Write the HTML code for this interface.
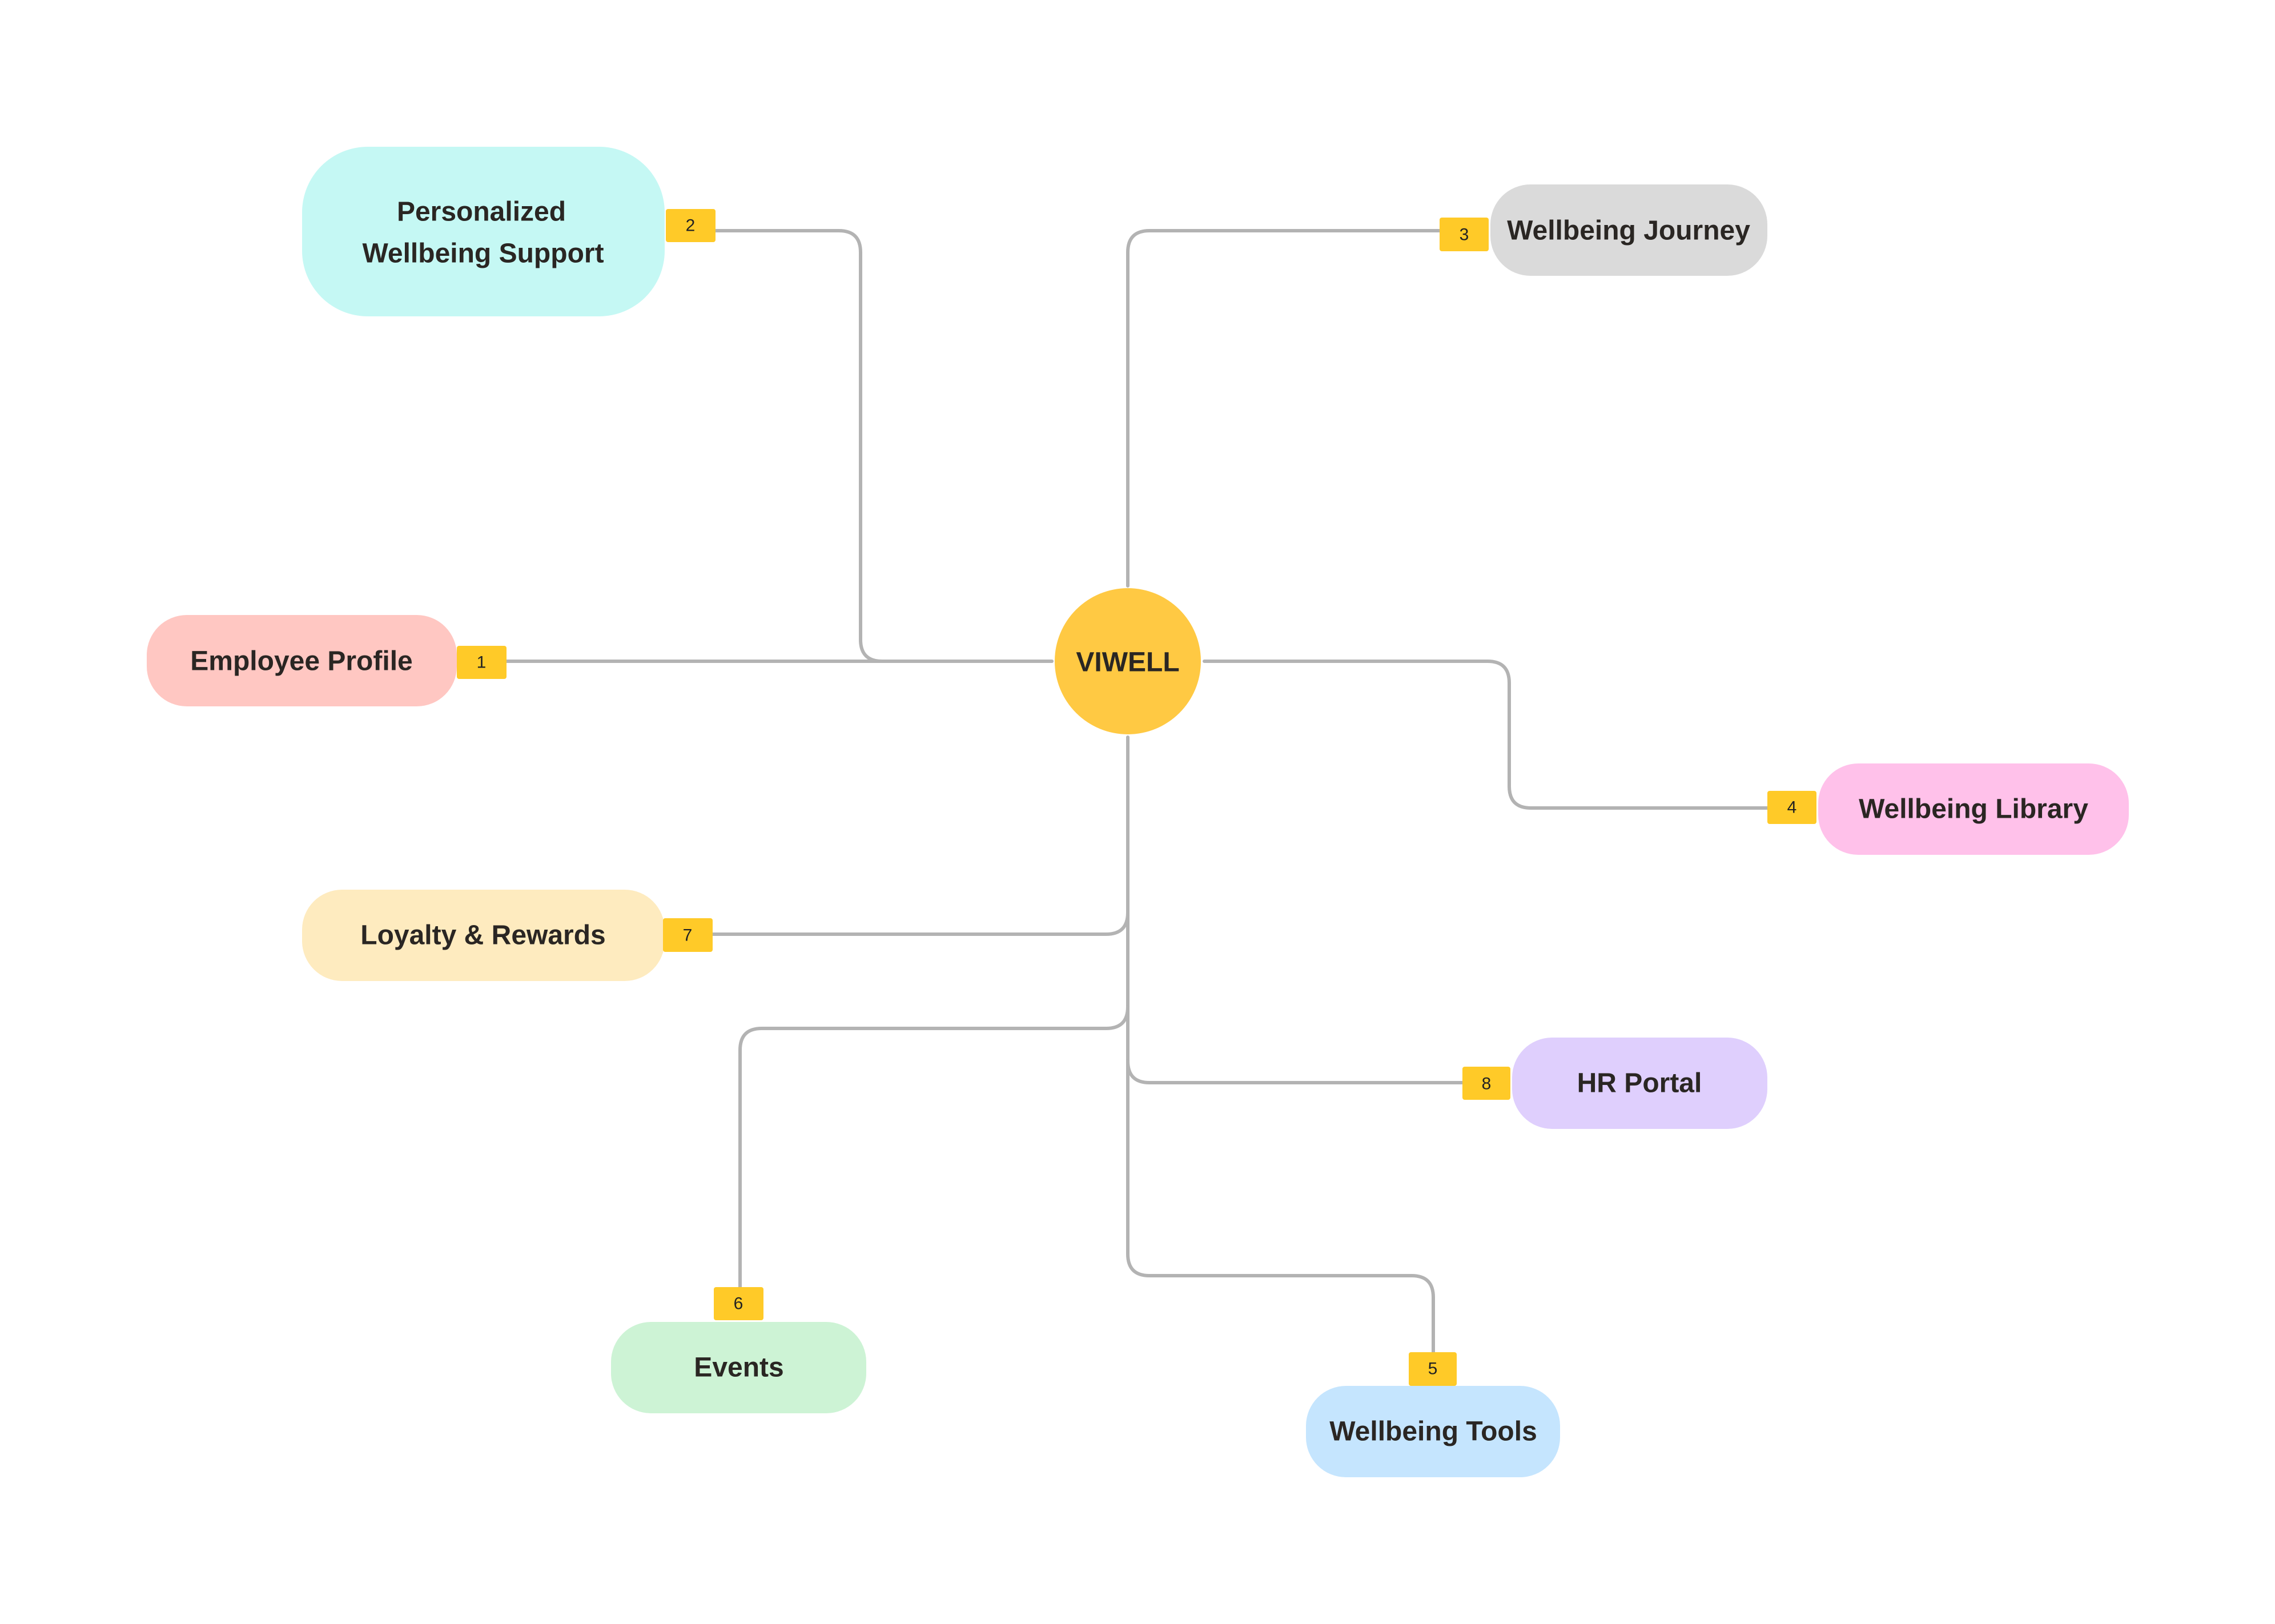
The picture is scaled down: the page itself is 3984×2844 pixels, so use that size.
<!DOCTYPE html>
<html><head><meta charset="utf-8"><style>
html,body{margin:0;padding:0;background:#fff;}
svg{display:block;}
text{font-family:"Liberation Sans",sans-serif;}
.t{font-size:48px;font-weight:bold;fill:#2a2623;text-anchor:middle;dominant-baseline:central;}
.b{font-size:30px;fill:#222;text-anchor:middle;dominant-baseline:central;}
</style></head><body>
<svg width="3984" height="2844" viewBox="0 0 3984 2844" xmlns="http://www.w3.org/2000/svg">
<g fill="none" stroke="#b3b3b3" stroke-width="6" stroke-linecap="round">
<path d="M1253 404 H1469 Q1507 404 1507 442 V1120 Q1507 1158 1545 1158 H1842"/>
<path d="M887 1158 H1842"/>
<path d="M1975 1026 V442 Q1975 404 2013 404 H2521"/>
<path d="M2109 1158 H2605 Q2643 1158 2643 1196 V1377 Q2643 1415 2681 1415 H3095"/>
<path d="M1975 1291 V2196 Q1975 2234 2013 2234 H2472 Q2510 2234 2510 2272 V2368"/>
<path d="M1248 1636 H1937 Q1975 1636 1975 1598"/>
<path d="M1975 1763 Q1975 1801 1937 1801 H1334 Q1296 1801 1296 1839 V2254"/>
<path d="M1975 1858 Q1975 1896 2013 1896 H2561"/>
</g>
<circle cx="1975" cy="1158" r="128" fill="#ffc943"/>
<text class="t" x="1975" y="1160">VIWELL</text>

<rect x="529" y="257" width="635" height="297" rx="115" fill="#c5f8f4"/>
<text class="t" x="843" y="371">Personalized</text>
<text class="t" x="846" y="444">Wellbeing Support</text>
<rect x="1166" y="366" width="87" height="58" rx="4" fill="#ffca28"/><text class="b" x="1209" y="395">2</text>

<rect x="2610" y="323" width="485" height="160" rx="70" fill="#dadada"/>
<text class="t" x="2852" y="404">Wellbeing Journey</text>
<rect x="2521" y="381" width="86" height="59" rx="4" fill="#ffca28"/><text class="b" x="2564" y="411">3</text>

<rect x="257" y="1077" width="543" height="160" rx="70" fill="#ffc7c2"/>
<text class="t" x="528" y="1158">Employee  Profile</text>
<rect x="800" y="1131" width="87" height="58" rx="4" fill="#ffca28"/><text class="b" x="843" y="1160">1</text>

<rect x="3184" y="1337" width="544" height="160" rx="70" fill="#ffc1ea"/>
<text class="t" x="3456" y="1417">Wellbeing Library</text>
<rect x="3095" y="1385" width="86" height="58" rx="4" fill="#ffca28"/><text class="b" x="3138" y="1414">4</text>

<rect x="529" y="1558" width="635" height="160" rx="70" fill="#feebbf"/>
<text class="t" x="846" y="1638">Loyalty &amp; Rewards</text>
<rect x="1161" y="1608" width="87" height="59" rx="4" fill="#ffca28"/><text class="b" x="1204" y="1638">7</text>

<rect x="2648" y="1817" width="447" height="160" rx="70" fill="#dfcffd"/>
<text class="t" x="2871" y="1897">HR Portal</text>
<rect x="2561" y="1868" width="84" height="58" rx="4" fill="#ffca28"/><text class="b" x="2603" y="1898">8</text>

<rect x="1070" y="2315" width="447" height="160" rx="70" fill="#cdf3d5"/>
<text class="t" x="1294" y="2395">Events</text>
<rect x="1250" y="2254" width="87" height="58" rx="4" fill="#ffca28"/><text class="b" x="1293" y="2283">6</text>

<rect x="2287" y="2427" width="445" height="160" rx="70" fill="#c5e5fe"/>
<text class="t" x="2510" y="2507">Wellbeing Tools</text>
<rect x="2467" y="2368" width="84" height="59" rx="4" fill="#ffca28"/><text class="b" x="2509" y="2397">5</text>
</svg>
</body></html>
